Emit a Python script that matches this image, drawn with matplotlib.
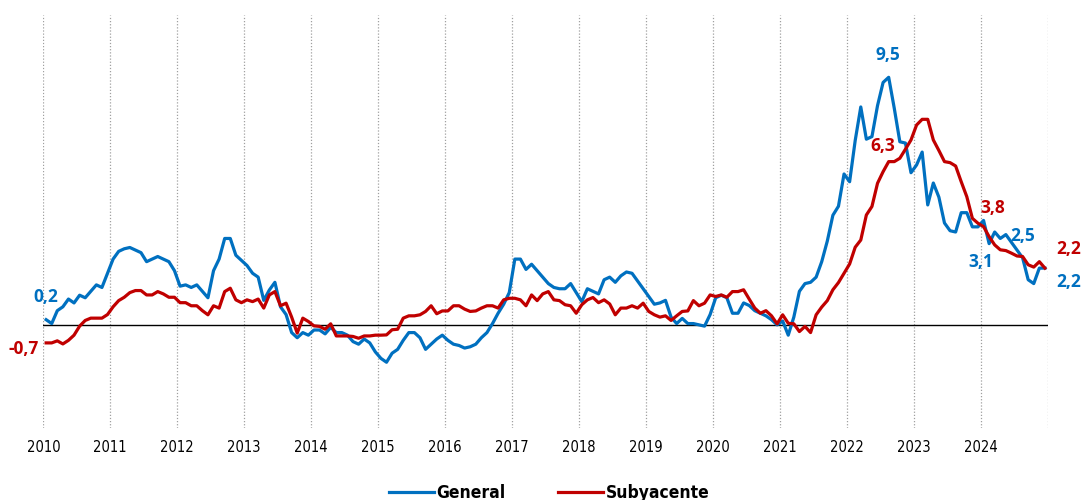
import numpy as np
import matplotlib
matplotlib.use("Agg")
import matplotlib.pyplot as plt

# Monthly year-on-year rates, Jan 2010 - Dec 2024
general = [
    0.2, 0.05, 0.55, 0.7, 1.0, 0.85, 1.15, 1.05, 1.3, 1.55, 1.45, 2.0,
    2.55, 2.85, 2.95, 3.0, 2.9, 2.8, 2.45, 2.55, 2.65, 2.55, 2.45, 2.1,
    1.5, 1.55, 1.45, 1.55, 1.3, 1.05, 2.1, 2.55, 3.35, 3.35, 2.7, 2.5,
    2.3, 2.0, 1.85, 0.95, 1.35, 1.65, 0.7, 0.4, -0.3, -0.5, -0.3, -0.4,
    -0.2, -0.2, -0.35, -0.1, -0.3, -0.3, -0.4, -0.65, -0.75, -0.55, -0.7, -1.05,
    -1.3, -1.45, -1.1, -0.95, -0.6, -0.3, -0.3, -0.5, -0.95, -0.75, -0.55, -0.4,
    -0.6, -0.75, -0.8, -0.9, -0.85, -0.75, -0.5, -0.3, 0.05, 0.45, 0.8, 1.25,
    2.55, 2.55, 2.15, 2.35, 2.1, 1.85, 1.6, 1.45, 1.4, 1.4, 1.6, 1.25,
    0.9, 1.4, 1.3, 1.2, 1.75, 1.85, 1.65, 1.9, 2.05, 2.0, 1.7, 1.4,
    1.1, 0.8, 0.85, 0.95, 0.3, 0.05, 0.25, 0.05, 0.05, 0.0, -0.05, 0.4,
    1.05, 1.15, 1.05, 0.45, 0.45, 0.85, 0.75, 0.55, 0.45, 0.35, 0.2, 0.0,
    0.15, -0.4, 0.3, 1.3, 1.6, 1.65, 1.85, 2.45, 3.25, 4.25, 4.6, 5.85,
    5.55, 7.15, 8.45, 7.2, 7.3, 8.5, 9.4, 9.6, 8.4, 7.1, 7.05, 5.9,
    6.2, 6.7, 4.65, 5.5, 4.95, 3.95, 3.65, 3.6, 4.35, 4.35, 3.8, 3.8,
    4.05, 3.15, 3.6, 3.35, 3.5, 3.2, 2.9, 2.6, 1.75, 1.6, 2.2, 2.2,
]
subyacente = [
    -0.7, -0.7, -0.62, -0.74, -0.6, -0.4, -0.05, 0.17, 0.26, 0.26, 0.26, 0.4,
    0.7, 0.94, 1.07, 1.25, 1.33, 1.33, 1.16, 1.16, 1.29, 1.2, 1.07, 1.07,
    0.86, 0.86, 0.74, 0.74, 0.55, 0.39, 0.74, 0.65, 1.29, 1.42, 0.97, 0.86,
    0.97, 0.9, 1.0, 0.65, 1.16, 1.29, 0.74, 0.84, 0.3, -0.32, 0.26, 0.13,
    -0.04, -0.06, -0.17, 0.04, -0.43, -0.43, -0.43, -0.45, -0.52, -0.43, -0.43, -0.4,
    -0.4, -0.39, -0.19, -0.17, 0.26, 0.35, 0.35, 0.39, 0.52, 0.74, 0.43, 0.54,
    0.54, 0.74, 0.74, 0.61, 0.52, 0.54, 0.65, 0.74, 0.74, 0.65, 0.97, 1.03,
    1.03, 0.97, 0.74, 1.16, 0.94, 1.2, 1.29, 0.97, 0.94, 0.78, 0.74, 0.45,
    0.78, 0.97, 1.06, 0.86, 0.97, 0.81, 0.39, 0.65, 0.65, 0.74, 0.65, 0.84,
    0.52, 0.39, 0.3, 0.35, 0.17, 0.35, 0.52, 0.54, 0.94, 0.74, 0.84, 1.16,
    1.1, 1.16, 1.07, 1.29, 1.29, 1.36, 1.0, 0.65, 0.45, 0.55, 0.35, 0.04,
    0.39, 0.06, 0.04, -0.26, -0.06, -0.3, 0.39, 0.69, 0.94, 1.36, 1.64, 2.0,
    2.36, 3.01, 3.29, 4.26, 4.59, 5.49, 5.94, 6.33, 6.33, 6.46, 6.81, 7.17,
    7.75, 7.97, 7.97, 7.17, 6.76, 6.33, 6.29, 6.16, 5.55, 4.97, 4.13, 3.94,
    3.81, 3.42, 3.1, 2.91, 2.88, 2.78, 2.67, 2.65, 2.33, 2.24, 2.45, 2.2,
]
years = list(range(2010, 2025))

# data labels: text, x (years), y
labels_general = [("0,2", 2010.03, 1.09), ("9,5", 2022.61, 10.47),
                  ("3,1", 2024.0, 2.44), ("2,5", 2024.63, 3.45),
                  ("2,2", 2025.32, 1.65)]
labels_sub = [("-0,7", 2009.70, -0.93), ("6,3", 2022.54, 6.94),
              ("3,8", 2024.18, 4.53), ("2,2", 2025.32, 2.95)]

BLUE = "#0070C0"
RED = "#C00000"

plt.rcParams["font.family"] = ["Open Sans", "DejaVu Sans"]

x = 2010 + (np.arange(len(general)) + 0.5) / 12

fig = plt.figure(figsize=(10.81, 5.0), dpi=100)
ax = fig.add_axes([0.0401, 0.144, 0.9291, 0.8252])

for yr in range(2010, 2026):
    ax.axvline(yr, color="#A0A0A0", linestyle=(0, (1, 1.5)), linewidth=0.9, zorder=1)
ax.axhline(0, color="black", linewidth=1.0, zorder=2)

ax.plot(x, general, color=BLUE, linewidth=2.3, label="General", zorder=3)
ax.plot(x, subyacente, color=RED, linewidth=2.3, label="Subyacente", zorder=4)

for txt, tx, ty in labels_general:
    ax.text(tx, ty, txt, color=BLUE, fontsize=12.5, fontweight="bold",
            ha="center", va="center", clip_on=False)
for txt, tx, ty in labels_sub:
    ax.text(tx, ty, txt, color=RED, fontsize=12.5, fontweight="bold",
            ha="center", va="center", clip_on=False)

ax.set_xlim(2010, 2025)
ax.set_ylim(-4, 12)
ax.set_xticks(years)
ax.set_xticklabels([str(y) for y in years], fontsize=10.5,
                   family=["DejaVu Sans"], fontstretch="condensed")
ax.tick_params(axis="x", length=0, pad=9)
ax.set_yticks([])
for s in ax.spines.values():
    s.set_visible(False)

fig.legend(loc="center", bbox_to_anchor=(0.508, 0.014), ncol=2, frameon=False,
           handlelength=2.6, columnspacing=3.0, handletextpad=0.15,
           prop={"size": 12.5, "weight": "bold", "stretch": "condensed",
                 "family": ["DejaVu Sans"]})

fig.savefig("out.png", dpi=100)
